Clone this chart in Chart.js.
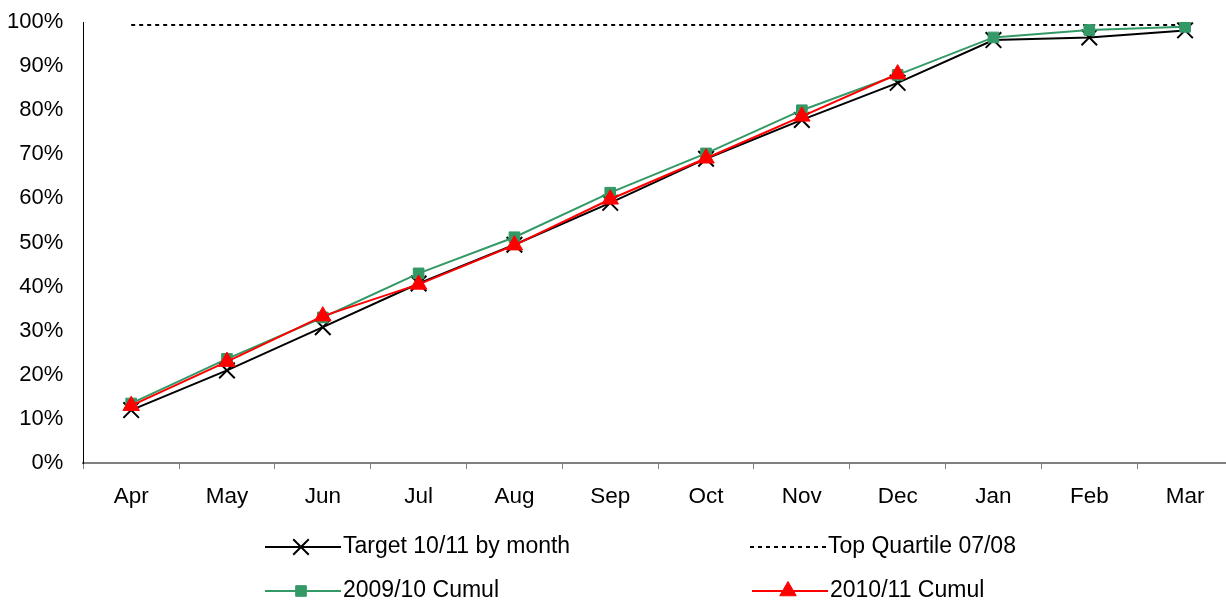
<!DOCTYPE html>
<html>
<head>
<meta charset="utf-8">
<script src="https://cdn.jsdelivr.net/npm/chart.js@4/dist/chart.umd.min.js"></script>
<style>
  html, body { margin: 0; padding: 0; background: #fff; overflow: hidden; }
  #wrap { width: 1246px; height: 603px; }
</style>
</head>
<body>
<div id="wrap"><canvas id="lineChart" width="1246" height="603"></canvas></div>
<script>
const months = ["Apr", "May", "Jun", "Jul", "Aug", "Sep", "Oct", "Nov", "Dec", "Jan", "Feb", "Mar"];
const target1011 = [12, 21, 30.8, 40.7, 49.5, 59, 69, 77.8, 86.2, 95.9, 96.5, 98.1];
const cumul0910 = [13.5, 23.6, 33, 43, 51.2, 61.3, 70.2, 80, 88, 96.5, 98.2, 98.9];
const cumul1011 = [13, 23, 33.3, 40.5, 49.4, 59.8, 69.1, 78.6, 88.2, null, null, null];
const topQuartile = [99.3, 99.3, 99.3, 99.3, 99.3, 99.3, 99.3, 99.3, 99.3, 99.3, 99.3, 99.3];
const yTicks = [0, 10, 20, 30, 40, 50, 60, 70, 80, 90, 100];

const FONT = "Arial, 'Liberation Sans', sans-serif";
const GREEN = "#339966";

// legend drawn by hand: two rows, two fixed columns
const legendSlots = [
  { idx: 0, x: 265, y: 547 },
  { idx: 1, x: 750, y: 547 },
  { idx: 2, x: 265, y: 591 },
  { idx: 3, x: 752, y: 591 }
];

const gridLegend = {
  id: "gridLegend",
  afterDraw(chart) {
    const ctx = chart.ctx;
    ctx.save();
    ctx.font = "23px " + FONT;
    ctx.textBaseline = "middle";
    legendSlots.forEach(s => {
      const ds = chart.data.datasets[s.idx];
      ctx.strokeStyle = ds.borderColor;
      ctx.lineWidth = 2;
      ctx.setLineDash(ds.borderDash || []);
      ctx.beginPath();
      ctx.moveTo(s.x, s.y);
      ctx.lineTo(s.x + 76, s.y);
      ctx.stroke();
      ctx.setLineDash([]);
      if (ds.pointRadius > 0) {
        ctx.fillStyle = ds.pointBackgroundColor;
        ctx.strokeStyle = ds.pointBorderColor;
        ctx.lineWidth = ds.pointBorderWidth;
        Chart.helpers.drawPoint(ctx, {
          pointStyle: ds.pointStyle,
          radius: ds.pointRadius,
          rotation: 0,
          borderWidth: ds.pointBorderWidth
        }, s.x + 36, s.y);
      }
      ctx.fillStyle = "#000";
      ctx.fillText(ds.label, s.x + 78, s.y);
    });
    ctx.restore();
  }
};

const CHART = document.getElementById("lineChart");

let lineChart = new Chart(CHART, {
  type: "line",
  data: {
    labels: months,
    datasets: [
      {
        label: "Target 10/11 by month",
        data: target1011,
        order: 3,
        borderColor: "#000",
        borderWidth: 2,
        tension: 0,
        pointStyle: "crossRot",
        pointRadius: 11,
        pointBorderWidth: 2,
        pointBorderColor: "#000",
        pointBackgroundColor: "#000"
      },
      {
        label: "Top Quartile 07/08",
        data: topQuartile,
        order: 2,
        borderColor: "#000",
        borderWidth: 2,
        borderDash: [4, 4],
        tension: 0,
        pointRadius: 0
      },
      {
        label: "2009/10 Cumul",
        data: cumul0910,
        order: 1,
        borderColor: GREEN,
        borderWidth: 2,
        tension: 0,
        pointStyle: "rect",
        pointRadius: 7.5,
        pointBorderWidth: 1,
        pointBorderColor: GREEN,
        pointBackgroundColor: GREEN
      },
      {
        label: "2010/11 Cumul",
        data: cumul1011,
        order: 0,
        borderColor: "#ff0000",
        borderWidth: 2,
        tension: 0,
        pointStyle: "triangle",
        pointRadius: 9.5,
        pointBorderWidth: 1,
        pointBorderColor: "#ff0000",
        pointBackgroundColor: "#ff0000"
      }
    ]
  },
  options: {
    responsive: false,
    animation: false,
    layout: { padding: { left: 7, right: 0, top: 22, bottom: 79 } },
    plugins: {
      legend: { display: false },
      tooltip: { enabled: false }
    },
    scales: {
      x: {
        offset: true,
        grid: {
          offset: true,
          drawOnChartArea: false,
          drawTicks: true,
          tickLength: 6,
          color: "#808080"
        },
        border: { display: true, color: "#808080", width: 2 },
        ticks: {
          color: "#000",
          padding: 14,
          maxRotation: 0,
          font: { family: FONT, size: 22.5 }
        }
      },
      y: {
        min: 0,
        max: 100,
        afterBuildTicks: axis => { axis.ticks = yTicks.map(v => ({ value: v })); },
        // invisible tick marks give the gap between labels and axis
        grid: {
          display: true,
          drawOnChartArea: false,
          drawTicks: true,
          tickLength: 20,
          tickColor: "rgba(0,0,0,0)"
        },
        border: { display: true, color: "#000", width: 1 },
        ticks: {
          color: "#000",
          padding: 0,
          font: { family: FONT, size: 22 },
          callback: v => v + "%"
        }
      }
    }
  },
  plugins: [gridLegend]
});
</script>
</body>
</html>
